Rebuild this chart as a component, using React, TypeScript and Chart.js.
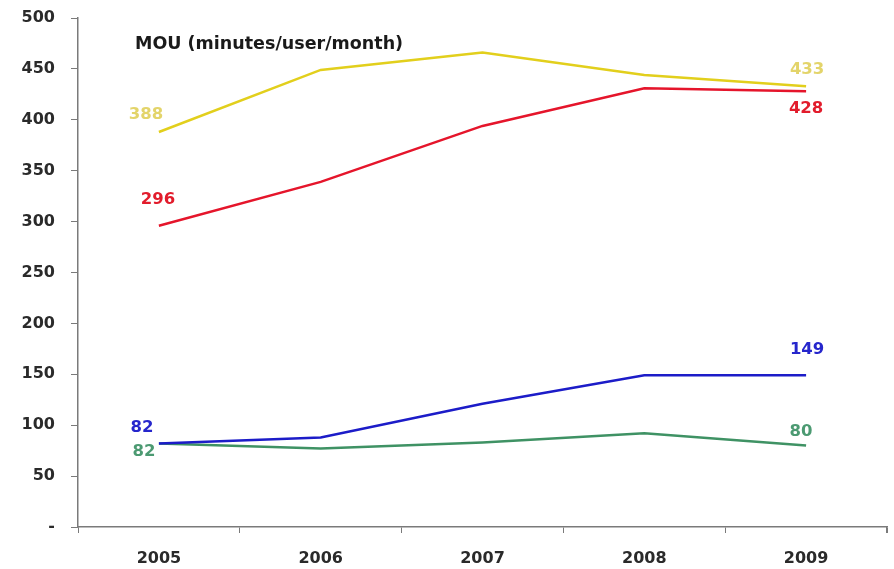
import React, { useEffect, useRef } from "react";
import { Chart, registerables } from "chart.js";

Chart.register(...registerables);

const years = ["2005", "2006", "2007", "2008", "2009"];
const yellowSeries = [388, 449, 466, 444, 433];
const redSeries = [296, 339, 394, 431, 428];
const blueSeries = [82, 88, 121, 149, 149];
const greenSeries = [82, 77, 83, 92, 80];
const yTickLabels: Record<number, string> = {
  0: "-", 50: "50", 100: "100", 150: "150", 200: "200", 250: "250",
  300: "300", 350: "350", 400: "400", 450: "450", 500: "500",
};
const titleText = "MOU (minutes/user/month)";

const FONT = "'DejaVu Sans', Verdana, sans-serif";

// label styles: [first point offset], [last point offset]
const labelStyles = [
  { color: "#e3d46a", first: [-13, -17], last: [1, -16] },
  { color: "#e21c2c", first: [-1, -26], last: [0, 17] },
  { color: "#2626cc", first: [-17, -16], last: [1, -26] },
  { color: "#4c9a72", first: [-15, 8], last: [-5, -14] },
];

const labelPlugin = {
  id: "endLabels",
  afterDatasetsDraw(chart: any) {
    const ctx = chart.ctx;
    ctx.save();
    ctx.textAlign = "center";
    ctx.textBaseline = "middle";
    ctx.font = `bold 16.5px ${FONT}`;
    chart.data.datasets.forEach((ds: any, di: number) => {
      const meta = chart.getDatasetMeta(di);
      const st = labelStyles[di];
      const n = ds.data.length;
      const pts: [number, number[]][] = [[0, st.first], [n - 1, st.last]];
      pts.forEach(([idx, off]) => {
        const el = meta.data[idx];
        ctx.fillStyle = st.color;
        ctx.fillText(String(ds.data[idx]), el.x + off[0], el.y + off[1]);
      });
    });
    // title inside the plot
    ctx.fillStyle = "#1a1a1a";
    ctx.textAlign = "left";
    ctx.font = `bold 17.5px ${FONT}`;
    const a = chart.chartArea;
    ctx.fillText(titleText, a.left + 57, a.top + 26);
    // closing tick at right end of the x axis
    const xs = chart.scales.x;
    ctx.strokeStyle = "#7a7a7a";
    ctx.lineWidth = 1;
    ctx.beginPath();
    ctx.moveTo(Math.round(a.right) - 0.5, xs.top);
    ctx.lineTo(Math.round(a.right) - 0.5, xs.top + 6);
    ctx.stroke();
    ctx.restore();
  },
};

export default function App() {
  const ref = useRef<HTMLCanvasElement>(null);
  useEffect(() => {
    if (!ref.current) return;
    const mk = (data: number[], color: string) => ({
      data,
      borderColor: color,
      backgroundColor: color,
      borderWidth: 2.5,
      pointRadius: 0,
      tension: 0,
      fill: false,
    });
    const chart = new Chart(ref.current, {
      type: "line",
      data: {
        labels: years,
        datasets: [
          mk(yellowSeries, "#e2cf1c"),
          mk(redSeries, "#e5152b"),
          mk(blueSeries, "#1c1cc8"),
          mk(greenSeries, "#3f9264"),
        ],
      },
      options: {
        animation: false,
        responsive: false,
        maintainAspectRatio: false,
        layout: { padding: { top: 18, right: 7, left: 0, bottom: 0 } },
        plugins: { legend: { display: false }, tooltip: { enabled: false }, title: { display: false } },
        scales: {
          x: {
            offset: true,
            grid: { offset: true, drawOnChartArea: false, drawTicks: true, tickLength: 6, color: "#7a7a7a" },
            border: { display: true, color: "#7a7a7a", width: 1.5 },
            ticks: {
              color: "#2a2a2a",
              font: { family: FONT, size: 16, weight: "bold" },
              padding: 16,
              maxRotation: 0,
            },
            afterFit: (s: any) => { s.height = 42; s.paddingLeft = 0; s.paddingRight = 0; },
          },
          y: {
            min: 0,
            max: 500,
            grid: { drawOnChartArea: false, drawTicks: true, tickLength: 7, color: "#7a7a7a" },
            border: { display: true, color: "#7a7a7a", width: 1.5 },
            ticks: {
              stepSize: 50,
              color: "#2a2a2a",
              padding: 16,
              font: { family: FONT, size: 16, weight: "bold" },
              callback: (v: any) => yTickLabels[v as number] ?? String(v),
            },
            afterFit: (s: any) => { s.width = 78; s.paddingTop = 0; s.paddingBottom = 0; },
          },
        },
      },
      plugins: [labelPlugin],
    } as any);
    return () => chart.destroy();
  }, []);
  return (
    <div style={{ position: "absolute", left: 0, top: 0, width: 894, height: 569, background: "#fff" }}>
      <canvas ref={ref} width={894} height={569} style={{ width: 894, height: 569, display: "block" }} />
    </div>
  );
}
